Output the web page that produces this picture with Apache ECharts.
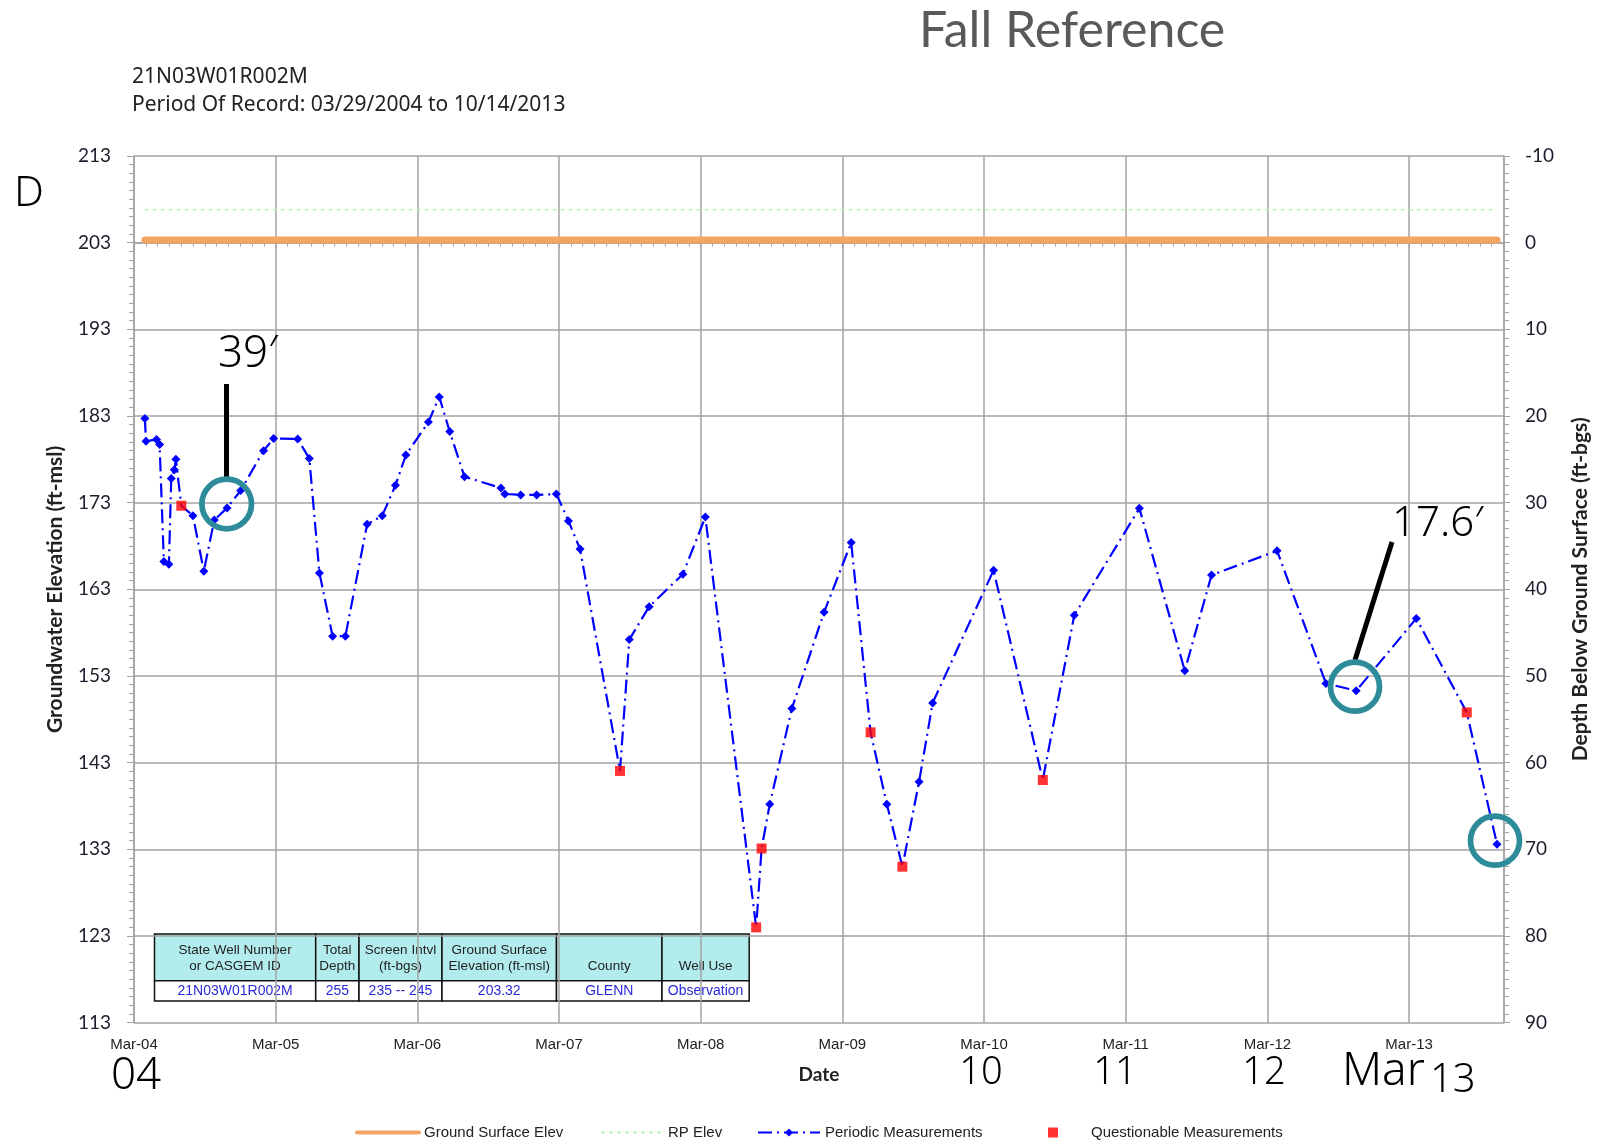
<!DOCTYPE html>
<html>
<head>
<meta charset="utf-8">
<title>21N03W01R002M hydrograph</title>
<script src="https://cdn.jsdelivr.net/npm/echarts@6/dist/echarts.min.js"></script>
<style>
  html, body { margin: 0; padding: 0; background: #fff; }
  #main { width: 1614px; height: 1142px; }
</style>
</head>
<body>
<div id="main"></div>
<script>
const periodicDates = [
  '2004-03-29', '2004-04-01', '2004-04-28', '2004-05-06', '2004-05-17', '2004-05-30',
  '2004-06-05', '2004-06-13', '2004-06-17', '2004-07-31', '2004-08-28', '2004-09-24',
  '2004-10-27', '2004-12-01', '2005-01-29', '2005-02-24', '2005-04-27', '2005-05-27',
  '2005-06-22', '2005-07-26', '2005-08-28', '2005-10-23', '2005-12-01', '2006-01-04',
  '2006-01-31', '2006-03-30', '2006-04-27', '2006-05-24', '2006-07-01', '2006-10-03',
  '2006-10-13', '2006-11-23', '2007-01-03', '2007-02-23', '2007-03-26', '2007-04-25',
  '2007-08-30', '2007-10-20', '2008-01-15', '2008-03-13', '2008-08-26', '2008-10-22',
  '2009-01-13', '2009-03-24', '2009-06-24', '2009-09-15', '2009-10-20', '2010-03-26',
  '2010-10-20', '2011-04-06', '2011-08-01', '2011-10-09', '2012-03-26', '2012-07-30',
  '2012-10-16', '2013-03-20', '2013-10-14'
];
const periodicValues = [
  182.7, 180.1, 180.3, 179.7, 166.2, 165.9,
  175.8, 176.8, 178.0, 171.5, 165.1, 171.0,
  172.4, 174.4, 179.0, 180.4, 180.35, 178.1,
  164.9, 157.6, 157.6, 170.5, 171.5, 175.0,
  178.5, 182.3, 185.2, 181.2, 176.0, 174.7,
  174.0, 173.9, 173.9, 174.0, 170.9, 167.65,
  157.2, 161.0, 164.75, 171.35, 138.2, 149.25,
  160.35, 168.4, 138.2, 140.8, 149.9, 165.2,
  160.0, 172.35, 153.6, 164.65, 167.45, 152.15,
  151.3, 159.65, 133.6
];
// questionable measurements
const questionableDates = [
  '2004-07-01', '2007-08-06', '2008-07-22', '2008-08-05',
  '2009-05-13', '2009-08-03', '2010-07-31', '2013-07-28'
];
const questionableValues = [172.65, 142.05, 124.0, 133.1, 146.5, 131.0, 141.0, 148.8];

// reference lines
const refDates = ['2004-03-29', '2013-10-14'];
const gseValues = [203.32, 203.32];
const rpValues = [206.8, 206.8];

// axes
const axisStart = '2004-03-01';
const axisEnd = '2013-11-01';
const yearLabels = ['Mar-04', 'Mar-05', 'Mar-06', 'Mar-07', 'Mar-08', 'Mar-09', 'Mar-10', 'Mar-11', 'Mar-12', 'Mar-13'];
const depthTicks = [-10, 0, 10, 20, 30, 40, 50, 60, 70, 80, 90];
const elevTicks = [213, 203, 193, 183, 173, 163, 153, 143, 133, 123, 113];

// well info table
const tableHeads = [
  ['State Well Number', 'or CASGEM ID'], ['Total', 'Depth'], ['Screen Intvl', '(ft-bgs)'],
  ['Ground Surface', 'Elevation (ft-msl)'], ['', 'County'], ['', 'Well Use']
];
const tableValues = ['21N03W01R002M', '255', '235 -- 245', '203.32', 'GLENN', 'Observation'];

// years since Mar 1 2004
const t0 = Date.parse(axisStart);
const YEAR = 365.25 * 864e5;
function yrs(s) { return (Date.parse(s) - t0) / YEAR; }

const merged = periodicDates.map((d, i) => ({ d: d, v: periodicValues[i], q: false }))
  .concat(questionableDates.map((d, i) => ({ d: d, v: questionableValues[i], q: true })))
  .sort((a, b) => Date.parse(a.d) - Date.parse(b.d));

const gridColor = '#a3a3a3';
const labelFont = 'Lato, "Noto Sans", sans-serif';
const noteFont = '"Noto Sans", "Open Sans", sans-serif';
const arial = '"Liberation Sans", Arial, sans-serif';

// table graphic
const colX = [154.5, 315.7, 359, 442, 556.5, 662, 749.2];
const rowY = [934, 980.7, 1001];
const tableEls = [];
for (let c = 0; c < 6; c++) {
  const x0 = colX[c], w = colX[c + 1] - colX[c], cx = x0 + w / 2;
  tableEls.push({ type: 'rect', shape: { x: x0, y: rowY[0], width: w, height: rowY[1] - rowY[0] },
    style: { fill: '#b3ecec', stroke: '#111', lineWidth: 1.5 } });
  tableEls.push({ type: 'rect', shape: { x: x0, y: rowY[1], width: w, height: rowY[2] - rowY[1] },
    style: { fill: '#fff', stroke: '#111', lineWidth: 1.5 } });
  tableHeads[c].forEach((t, k) => {
    if (!t) return;
    tableEls.push({ type: 'text', x: cx, y: k === 0 ? 950 : 966,
      style: { text: t, fill: '#222', fontSize: 13.5, fontFamily: arial,
        align: 'center', verticalAlign: 'middle' } });
  });
  tableEls.push({ type: 'text', x: cx, y: 991,
    style: { text: tableValues[c], fill: '#2a2ad8', fontSize: 14, fontFamily: arial,
      align: 'center', verticalAlign: 'middle' } });
}

function note(text, x, y, size, align) {
  return { type: 'text', x: x, y: y, z: 100,
    style: { text: text, fill: '#000', fontSize: size, fontFamily: noteFont, fontWeight: 300,
      align: align || 'left', verticalAlign: 'middle' } };
}

// one legend box per entry so each sits where the original has it
function legendAt(left, item, extra) {
  return Object.assign({
    left: left, top: 1120, itemWidth: 62, itemHeight: 10,
    textStyle: { fontSize: 15, color: '#222', fontFamily: arial },
    data: [item]
  }, extra || {});
}

const chart = echarts.init(document.getElementById('main'));
chart.setOption({
  animation: false,
  backgroundColor: '#fff',
  grid: { left: 134, right: 110, top: 156, bottom: 119.3, outerBoundsMode: 'none' },
  legend: [
    legendAt(350, { name: 'Ground Surface Elev', lineStyle: { width: 4 }, itemStyle: { opacity: 0 } }),
    legendAt(595, { name: 'RP Elev', itemStyle: { opacity: 0 } }),
    legendAt(752, 'Periodic Measurements'),
    legendAt(1043, { name: 'Questionable Measurements', icon: 'rect' }, {
      itemWidth: 10,
      textStyle: { fontSize: 15, color: '#222', fontFamily: arial, padding: [0, 0, 0, 28] }
    })
  ],
  xAxis: {
    type: 'value', min: 0, max: yrs(axisEnd), interval: 1,
    axisLine: { lineStyle: { color: gridColor, width: 1.5 } },
    axisTick: { length: 6, lineStyle: { color: gridColor } },
    minorTick: { show: true, splitNumber: 12, length: 4, lineStyle: { color: gridColor } },
    splitLine: { show: true, lineStyle: { color: gridColor, width: 1.5 } },
    axisLabel: {
      margin: 15, fontSize: 15, color: '#222', fontFamily: arial,
      formatter: v => (Math.abs(v - Math.round(v)) < 1e-6 && yearLabels[Math.round(v)]) || ''
    },
    name: 'Date', nameLocation: 'middle', nameGap: 43,
    nameTextStyle: { fontSize: 19, fontWeight: 'bold', color: '#222', fontFamily: labelFont }
  },
  yAxis: [
    { type: 'value', min: 113, max: 213, show: false },
    {
      type: 'value', position: 'left', min: -10, max: 90, interval: 10, inverse: true,
      axisLine: { show: true, lineStyle: { color: gridColor, width: 1.5 } },
      axisTick: { show: true, length: 7, lineStyle: { color: gridColor } },
      minorTick: { show: true, splitNumber: 10, length: 5, lineStyle: { color: gridColor } },
      splitLine: { show: false },
      axisLabel: {
        margin: 23, fontSize: 19, color: '#1d1d2b', fontFamily: labelFont,
        formatter: v => String(elevTicks[depthTicks.indexOf(v)])
      },
      name: 'Groundwater Elevation (ft-msl)', nameLocation: 'middle', nameRotate: 90, nameGap: 68,
      nameTextStyle: { fontSize: 21, fontWeight: 'bold', color: '#222', fontFamily: labelFont }
    },
    {
      type: 'value', position: 'right', min: -10, max: 90, interval: 10, inverse: true,
      axisLine: { show: true, lineStyle: { color: gridColor, width: 1.5 } },
      axisTick: { show: true, length: 6, lineStyle: { color: gridColor } },
      minorTick: { show: true, splitNumber: 10, length: 5, lineStyle: { color: gridColor } },
      splitLine: { show: true, lineStyle: { color: gridColor, width: 1.5 } },
      axisLabel: { margin: 21, fontSize: 19, color: '#1d1d2b', fontFamily: labelFont },
      name: 'Depth Below Ground Surface (ft-bgs)', nameLocation: 'middle', nameRotate: 90, nameGap: 66,
      nameTextStyle: { fontSize: 21, fontWeight: 'bold', color: '#222', fontFamily: labelFont }
    }
  ],
  series: [
    {
      name: 'Ground Surface Elev', type: 'line', yAxisIndex: 0, symbol: 'none', silent: true, z: 2,
      data: refDates.map((d, i) => [yrs(d), gseValues[i]]),
      lineStyle: { color: '#f3a462', width: 7, cap: 'round' }, itemStyle: { color: '#f3a462' }
    },
    {
      name: 'RP Elev', type: 'line', yAxisIndex: 0, symbol: 'none', silent: true, z: 2,
      data: refDates.map((d, i) => [yrs(d), rpValues[i]]),
      lineStyle: { color: '#b5f3b5', width: 1.5, type: [4, 4] }, itemStyle: { color: '#b5f3b5' }
    },
    {
      name: 'Periodic Measurements', type: 'line', yAxisIndex: 0, z: 3,
      symbol: 'diamond', symbolSize: 9,
      data: merged.map(p => p.q ? { value: [yrs(p.d), p.v], symbol: 'none' } : [yrs(p.d), p.v]),
      lineStyle: { color: '#0000ff', width: 2.2, type: [14, 5, 2, 5] },
      itemStyle: { color: '#0000ff' }
    },
    {
      name: 'Questionable Measurements', type: 'scatter', yAxisIndex: 0, z: 4,
      symbol: 'rect', symbolSize: 10,
      data: questionableDates.map((d, i) => [yrs(d), questionableValues[i]]),
      itemStyle: { color: '#ff0000' }
    }
  ],
  graphic: [
    { type: 'text', x: 919, y: 31, style: { text: 'Fall Reference', fill: '#595959', fontSize: 50,
      fontFamily: labelFont, align: 'left', verticalAlign: 'middle' } },
    { type: 'text', x: 132, y: 77, style: { text: '21N03W01R002M', fill: '#222', fontSize: 21,
      fontFamily: noteFont, align: 'left', verticalAlign: 'middle' } },
    { type: 'text', x: 132, y: 105, style: { text: 'Period Of Record: 03/29/2004 to 10/14/2013', fill: '#222',
      fontSize: 21, fontFamily: noteFont, align: 'left', verticalAlign: 'middle' } },
    note('D', 14, 194, 42),
    note('39\u2032', 218, 354, 44),
    note('17.6\u2032', 1392, 524, 42),
    note('04', 111, 1076, 44),
    note('10', 981, 1073, 38, 'center'),
    note('11', 1115, 1073, 38, 'center'),
    note('12', 1264, 1073, 38, 'center'),
    note('Mar', 1342, 1072, 46),
    note('13', 1430, 1081, 40),
    { type: 'line', z: 100, shape: { x1: 226.5, y1: 384, x2: 226.5, y2: 477 }, style: { stroke: '#000', lineWidth: 5 } },
    { type: 'line', z: 100, shape: { x1: 1392, y1: 542, x2: 1355, y2: 660 }, style: { stroke: '#000', lineWidth: 5 } },
    { type: 'circle', z: 100, shape: { cx: 226.7, cy: 504, r: 24.8 }, style: { fill: 'none', stroke: '#2e8b9a', lineWidth: 5.7 } },
    { type: 'circle', z: 100, shape: { cx: 1355, cy: 686.7, r: 24.5 }, style: { fill: 'none', stroke: '#2e8b9a', lineWidth: 5.7 } },
    { type: 'circle', z: 100, shape: { cx: 1495, cy: 840.7, r: 24.5 }, style: { fill: 'none', stroke: '#2e8b9a', lineWidth: 5.7 } },
    { type: 'group', z: 50, children: tableEls }
  ]
});
</script>
</body>
</html>
